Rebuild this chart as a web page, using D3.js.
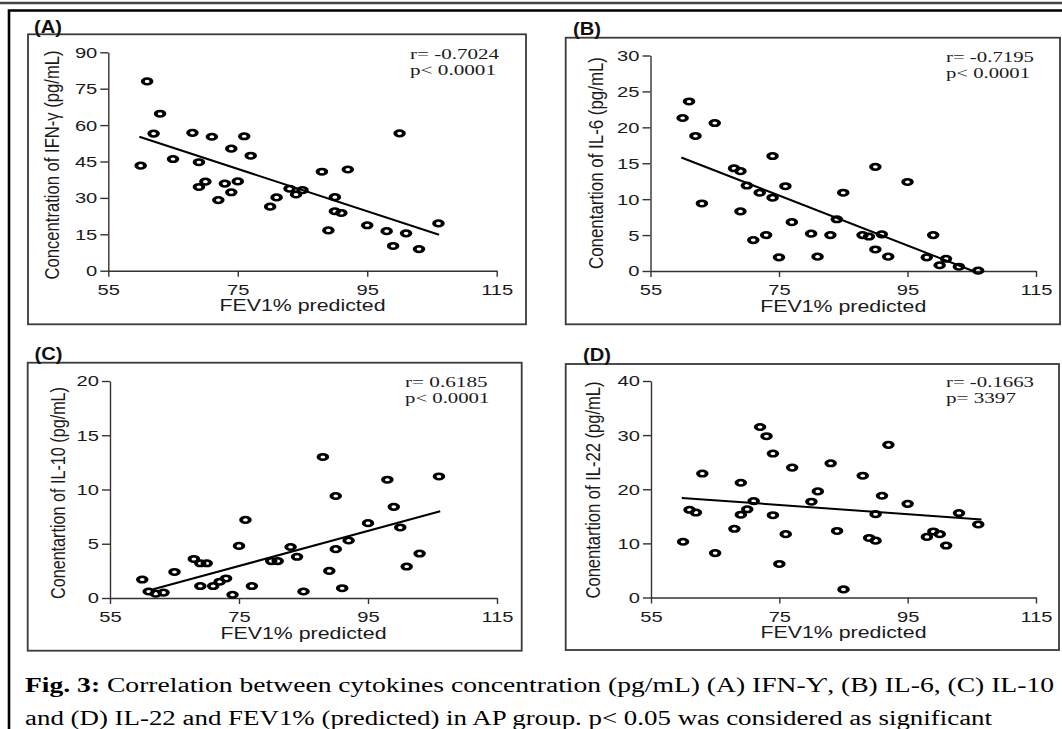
<!DOCTYPE html>
<html><head><meta charset="utf-8">
<script src="https://cdn.jsdelivr.net/npm/d3@7"></script>
<style>body{margin:0;background:#fff}svg{display:block}</style>
</head><body>
<svg id="c" width="1062" height="729"></svg>
<script>
// ---------------- data ----------------
const xTicks = [55, 75, 95, 115];
const xTitle = "FEV1% predicted";

const xA = [60,61,62,63,65,68,69,69,70,71,72,73,74,74,75,76,77,80,81,83,84,85,88,89,90,90,91,92,95,98,99,100,101,103,106];
const yA = [43.3,78.0,56.5,64.7,46.0,56.8,44.7,34.5,36.7,55.2,29.1,35.9,50.3,32.3,36.8,55.4,47.4,26.4,30.2,33.8,31.4,33.2,40.8,16.6,30.3,24.5,23.8,41.7,18.7,16.3,10.2,56.6,15.4,8.9,19.5];
const fitA = [[59.8,55.2],[106.1,14.8]];
const ticksA = [0,15,30,45,60,75,90];

const xB = [60,61,62,63,65,68,69,69,70,71,72,73,74,74,75,76,77,80,81,83,84,85,88,89,90,90,91,92,95,98,99,100,101,103,106];
const yB = [21.3,23.6,18.8,9.4,20.6,14.3,13.9,8.3,11.9,4.3,10.9,5.0,16.0,10.2,1.9,11.8,6.8,5.2,2.0,5.0,7.2,10.9,5.0,4.8,14.5,3.0,5.1,2.0,12.4,1.9,5.0,0.8,1.7,0.6,0.05];
const fitB = [[59.8,15.8],[105.2,0]];
const ticksB = [0,5,10,15,20,25,30];

const xC = [60,61,62.1,63.3,65,68,69,69,70,71,72,73,74,75,76,77,80,81,83,84,85,88,89,90,90,91,92,95,98,99,100,101,103,106];
const yC = [1.7,0.6,0.4,0.5,2.4,3.6,3.2,1.1,3.2,1.1,1.5,1.8,0.3,4.8,7.2,1.1,3.4,3.4,4.7,3.8,0.6,13.0,2.5,9.4,4.5,0.9,5.3,6.9,10.9,8.4,6.5,2.9,4.1,11.2];
const fitC = [[61.7,0.8],[106.2,8.0]];
const ticksC = [0,5,10,15,20];

const xD = [60,61,62,63,65,68,69,69,70,71,72,73,74,74,75,76,77,80,81,83,84,85,88,89,90,90,91,92,95,98,99,100,101,103,106];
const yD = [10.3,16.2,15.7,22.9,8.2,12.7,21.2,15.3,16.3,17.8,31.5,29.8,26.6,15.2,6.2,11.7,24.0,17.7,19.6,24.8,12.3,1.5,22.5,11.0,15.4,10.5,18.8,28.2,17.3,11.2,12.2,11.7,9.6,15.6,13.5];
const fitD = [[59.8,18.4],[106.5,14.4]];
const ticksD = [0,10,20,30,40];

const panelLabels = ["(A)", "(B)", "(C)", "(D)"];
const yTitles = ["Concentration of IFN-\u03b3 (pg/mL)", "Conentartion of IL-6 (pg/mL)", "Conentartion of IL-10 (pg/mL)", "Conentartion of IL-22 (pg/mL)"];
const statR = ["r= -0.7024", "r= -0.7195", "r= 0.6185", "r= -0.1663"];
const statP = ["p< 0.0001", "p< 0.0001", "p< 0.0001", "p= 3397"];

const captionBold = "Fig. 3:";
const captionLine1 = " Correlation between cytokines concentration (pg/mL) (A) IFN-\u01b3, (B) IL-6, (C) IL-10";
const captionLine2 = "and (D) IL-22 and FEV1% (predicted) in AP group.  p< 0.05 was considered as significant";

// ---------------- layout ----------------
const SANS = '"Liberation Sans", Arial, sans-serif';
const SERIF = '"Liberation Serif", "Times New Roman", serif';

const layout = [
  {box:[28,34.3,526,324.3], xr:[108.3,496.7], yr:[270.7,52.3], lab:[34,32.5], tX:59, tCY:165, tLen:229, sX:410, sY:59, sW:[89,86]},
  {box:[565.7,37.7,1060,324.3], xr:[650.5,1036], yr:[271,55.5], lab:[573,35], tX:603, tCY:163, tLen:212, sX:946, sY:62, sW:[88,84]},
  {box:[27.7,362.7,521.7,650.7], xr:[110,497], yr:[598,381], lab:[34.5,360], tX:65, tCY:493, tLen:212, sX:405, sY:387, sW:[82.6,84.4]},
  {box:[565.7,364,1059,650], xr:[651,1036], yr:[597.5,381], lab:[583,361], tX:600, tCY:490, tLen:217, sX:946, sY:387, sW:[88,70]}
];
const series = [[xA,yA,fitA,ticksA],[xB,yB,fitB,ticksB],[xC,yC,fitC,ticksC],[xD,yD,fitD,ticksD]];

const svg = d3.select("#c");

function stretch(sel, k){
  sel.each(function(){
    const L = this.getComputedTextLength();
    d3.select(this).attr("textLength", L*k).attr("lengthAdjust","spacingAndGlyphs");
  });
}

// outer frame
svg.append("line").attr("x1",0).attr("x2",1062).attr("y1",3).attr("y2",3)
  .attr("stroke","#444").attr("stroke-width",2.5);
svg.append("path").attr("d","M9,729V10.5H1062").attr("fill","none")
  .attr("stroke","#000").attr("stroke-width",2.6);

series.forEach((s, i) => {
  const [xs, ys, fit, yt] = s;
  const L = layout[i];
  const g = svg.append("g");
  const x = d3.scaleLinear().domain([55,115]).range(L.xr);
  const y = d3.scaleLinear().domain([0, yt[yt.length-1]]).range(L.yr);

  // box
  g.append("rect").attr("x",L.box[0]).attr("y",L.box[1])
    .attr("width",L.box[2]-L.box[0]).attr("height",L.box[3]-L.box[1])
    .attr("fill","none").attr("stroke","#3a3a3a").attr("stroke-width",1.8);

  // panel label
  const lab = g.append("text").attr("x",L.lab[0]).attr("y",L.lab[1])
    .attr("font-family",SANS).attr("font-weight","bold").attr("font-size",17.5)
    .attr("fill","#111").text(panelLabels[i]);
  stretch(lab, 1.15);

  // axes
  const ay = g.append("g").attr("transform",`translate(${L.xr[0]},0)`)
    .call(d3.axisLeft(y).tickValues(yt).tickSize(8).tickSizeOuter(0).tickPadding(3));
  const ax = g.append("g").attr("transform",`translate(0,${L.yr[0]})`)
    .call(d3.axisBottom(x).tickValues(xTicks).tickSize(6).tickSizeOuter(0));
  [ay, ax].forEach(a => {
    a.select(".domain").attr("stroke","#333").attr("stroke-width",1.4);
    a.selectAll(".tick line").attr("stroke","#333").attr("stroke-width",1.4);
    a.selectAll("text").attr("font-family",SANS).attr("font-size",15.5).attr("fill","#1a1a1a");
  });
  ax.selectAll("text").attr("y",24).attr("dy",0);
  stretch(ay.selectAll("text"), 1.3);
  stretch(ax.selectAll("text"), 1.3);

  // x title
  g.append("text").attr("x",(L.xr[0]+L.xr[1])/2).attr("y",L.yr[0]+40.5)
    .attr("text-anchor","middle").attr("font-family",SANS).attr("font-size",16.5)
    .attr("fill","#1a1a1a").attr("textLength",166).attr("lengthAdjust","spacingAndGlyphs")
    .text(xTitle);

  // y title
  g.append("text").attr("transform",`translate(${L.tX},${L.tCY}) scale(1.22,1) rotate(-90)`)
    .attr("text-anchor","middle").attr("font-family",SANS).attr("font-size",16.5)
    .attr("fill","#1a1a1a").attr("textLength",L.tLen).attr("lengthAdjust","spacingAndGlyphs")
    .text(yTitles[i]);

  // stats
  const st = g.append("g").attr("font-family",SERIF).attr("font-size",15.5).attr("fill","#1a1a1a");
  st.append("text").attr("x",L.sX).attr("y",L.sY).attr("textLength",L.sW[0])
    .attr("lengthAdjust","spacingAndGlyphs").text(statR[i]);
  st.append("text").attr("x",L.sX).attr("y",L.sY+16).attr("textLength",L.sW[1])
    .attr("lengthAdjust","spacingAndGlyphs").text(statP[i]);

  // regression line
  g.append("line").attr("x1",x(fit[0][0])).attr("y1",y(fit[0][1]))
    .attr("x2",x(fit[1][0])).attr("y2",y(fit[1][1]))
    .attr("stroke","#000").attr("stroke-width",2);

  // points
  g.append("g").selectAll("circle").data(d3.zip(xs, ys)).join("circle")
    .attr("transform", d => `translate(${x(d[0])},${y(d[1])}) scale(1.55,1)`)
    .attr("r",2.8).attr("fill","none").attr("stroke","#000").attr("stroke-width",2.5);
});

// caption
const c1 = svg.append("text").attr("x",25).attr("y",691.5)
  .attr("font-family",SERIF).attr("font-size",20.5).attr("fill","#000")
  .attr("textLength",1029).attr("lengthAdjust","spacingAndGlyphs");
c1.append("tspan").attr("font-weight","bold").text(captionBold);
c1.append("tspan").text(captionLine1);
svg.append("text").attr("x",25).attr("y",724.5)
  .attr("font-family",SERIF).attr("font-size",20.5).attr("fill","#000")
  .attr("textLength",967).attr("lengthAdjust","spacingAndGlyphs")
  .text(captionLine2);
</script>
</body></html>
